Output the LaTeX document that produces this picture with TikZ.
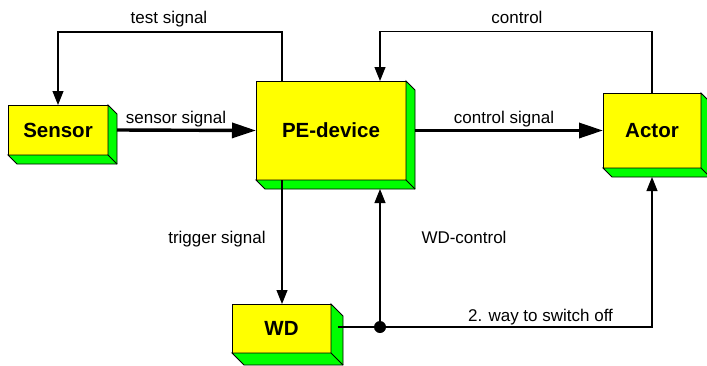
\documentclass[tikz,border=0pt]{standalone}
\usepackage{fontspec}
\setmainfont{Liberation Sans}
\usetikzlibrary{arrows.meta,calc}
\definecolor{boxyellow}{RGB}{255,255,0}
\definecolor{boxgreen}{RGB}{0,255,0}
\tikzset{
  frontbox/.style={draw=black, line width=0.9pt, fill=boxyellow, inner sep=0pt, outer sep=0pt,
     font=\fontsize{20.5}{22}\selectfont\bfseries},
  sidepoly/.style={draw=black, line width=0.9pt, fill=boxgreen, line join=miter},
  thinarrow/.style={draw=black, line width=1.1pt, -{Triangle[length=14pt,width=11pt]}},
  thickarrow/.style={draw=black, line width=3.4pt, -{Triangle[length=24pt,width=15pt]}},
  plainline/.style={draw=black, line width=1.1pt},
  lbl/.style={font=\fontsize{17}{19}\selectfont, anchor=base, inner sep=0pt}
}
\newcommand\depthsides[2]{%
  \path[sidepoly] (#1.north east) -- ++(#2,#2) -- ($(#1.south east)+(#2,#2)$)
      -- ($(#1.south west)+(#2,#2)$) -- (#1.south west) -- (#1.south east) -- cycle;
  \draw[line width=0.9pt] (#1.south east) -- ++(#2,#2);}
\begin{document}
\begin{tikzpicture}[x=1pt,y=-1pt]
\path[use as bounding box, fill=white] (0,0) rectangle (707,365);
\begin{scope}
\clip (0,0) rectangle (707,365);
% boxes
\node[frontbox, minimum width=100pt, minimum height=50pt] (sensor) at (58,130) {Sensor};
\depthsides{sensor}{9}
\node[frontbox, minimum width=150pt, minimum height=99pt] (pe) at (331,130.5) {PE-device};
\depthsides{pe}{9}
\node[frontbox, minimum width=98pt, minimum height=75pt] (actor) at (652,130.5) {Actor};
\depthsides{actor}{9}
\node[frontbox, minimum width=99pt, minimum height=49pt] (wd) at (281.5,328.5) {WD};
\depthsides{wd}{12}
\end{scope}
% helper coordinates
\coordinate (pebot) at ([yshift=-9pt]pe.south);
\coordinate (actorbot) at ([yshift=-9pt]actor.south);
\coordinate (wdout) at ([xshift=7pt]wd.east);
\coordinate (junction) at (380,327);
% connectors
\draw[thinarrow] ([xshift=-49pt]pe.north) -- ++(0,-49) -| (sensor.north);
\draw[thinarrow] (actor.north) -- ++(0,-61.5) -| ([xshift=49pt]pe.north);
\draw[thickarrow] ([xshift=9pt]sensor.east) -- (pe.west);
\draw[thickarrow] ([xshift=9pt]pe.east) -- (actor.west);
\draw[thinarrow] ([xshift=-49pt]pe.south) -- ([xshift=-49pt]pe.south |- wd.north);
\draw[thinarrow] (junction) -- (junction |- pebot);
\draw[plainline] (wdout |- junction) -- (junction);
\draw[thinarrow] (junction) -| (actorbot);
\fill[black] (junction) circle (6pt);
% labels
\node[lbl] (ltest) at (169,23) {test signal};
\node[lbl] (lcontrol) at (517,23) {control};
\node[lbl] (lsensor) at (176,123) {sensor signal};
\node[lbl] (lcsig) at (504,123) {control signal};
\node[lbl] (ltrig) at (217,243) {trigger signal};
\node[lbl] (lwdc) at (464,243) {WD-control};
\node[lbl] (lway) at (540.5,321) {2. way to switch off};
\end{tikzpicture}
\end{document}
